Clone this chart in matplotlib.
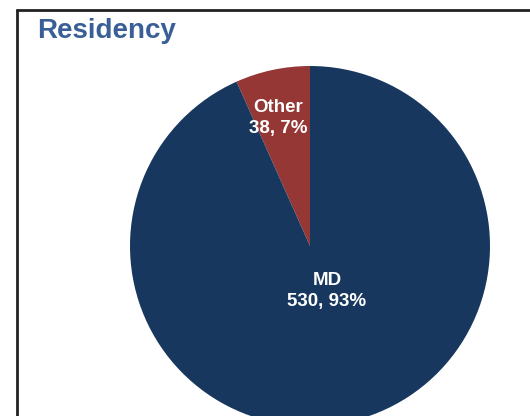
import numpy as np
import matplotlib.pyplot as plt

categories = ['Other', 'MD']
counts = [38, 530]
percents = ['7%', '93%']
colors = ['#953735', '#17375E']
label_dist = [0.735, 0.267]
label_shift = [1.9, 8.7]

plt.rcParams['font.family'] = ['Liberation Sans', 'DejaVu Sans']

fig = plt.figure(figsize=(5.3, 4.16), dpi=100)
ax = fig.add_axes([0, 0, 1, 1])

cx, cy, r = 310, 416 - 246, 180
wedges, _ = ax.pie(counts, colors=colors, startangle=90, counterclock=True,
                   center=(cx, cy), radius=r, frame=True,
                   wedgeprops=dict(linewidth=0))
ax.set_xlim(0, 530)
ax.set_ylim(0, 416)
ax.set_aspect('equal')
ax.axis('off')

for w, name, n, p, d, s in zip(wedges, categories, counts, percents, label_dist, label_shift):
    mid = np.deg2rad((w.theta1 + w.theta2) / 2 + s)
    x = cx + d * r * np.cos(mid)
    y = cy + d * r * np.sin(mid)
    ax.text(x, y, f'{name}\n{n}, {p}', color='white', fontsize=13.5,
            fontweight='bold', ha='center', va='center', linespacing=1.3)

# frame of the slide panel
ax.plot([16.5, 16.5], [0, 416 - 9], color='#222222', lw=2, solid_capstyle='butt')
ax.plot([16, 530], [416 - 9.5, 416 - 9.5], color='#222222', lw=2, solid_capstyle='butt')

ax.text(37, 416 - 31, 'Residency', color='#3A5F96', fontsize=20,
        fontweight='bold', ha='left', va='center')

fig.savefig('out.png', dpi=100)
